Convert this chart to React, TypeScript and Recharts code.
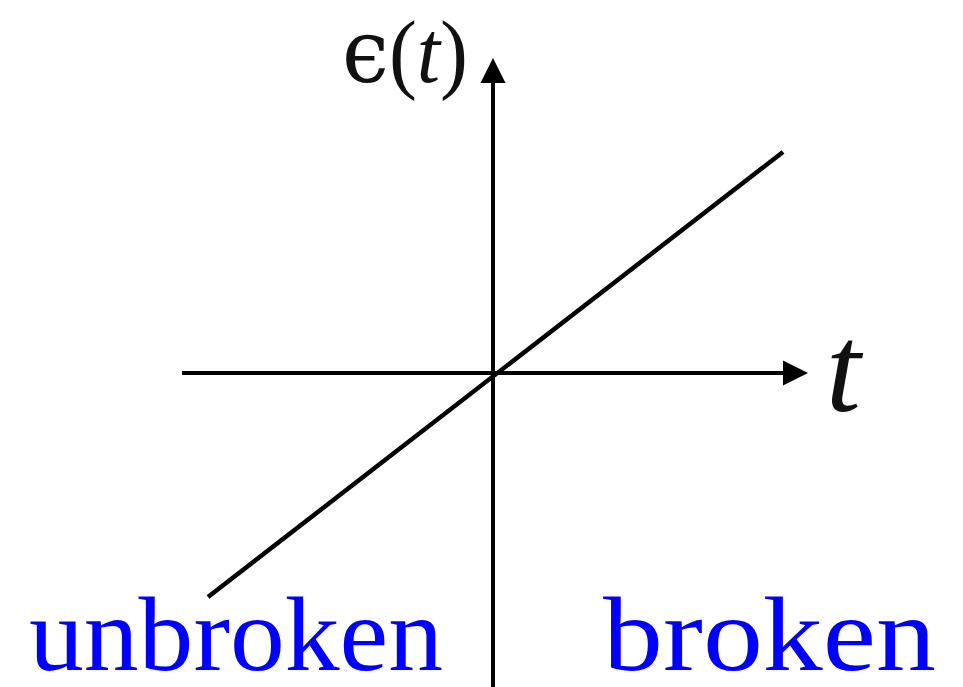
import { LineChart, Line, XAxis, YAxis, ReferenceLine } from "recharts";

// strain ε grows linearly with time t, through the origin
const timePoints = [-2.85, 2.9];
const strainPoints = [-2.24, 2.21];

// axis extents in data units (t axis, ε axis)
const tAxisRange = [-3.11, 3.15];
const epsAxisRange = [-3.14, 3.15];

const data = timePoints.map((t, i) => ({ t, eps: strainPoints[i] }));

const INK = "#000";
const BLUE = "#0000ff";

// line with a filled triangular head at (x2, y2)
const arrowShape = (props: any) => {
  const { x1, y1, x2, y2 } = props;
  const dx = x2 - x1;
  const dy = y2 - y1;
  const len = Math.sqrt(dx * dx + dy * dy) || 1;
  const ux = dx / len;
  const uy = dy / len;
  const head = 25;
  const half = 12.5;
  const bx = x2 - ux * head;
  const by = y2 - uy * head;
  const pts = [
    `${x2},${y2}`,
    `${bx - uy * half},${by + ux * half}`,
    `${bx + uy * half},${by - ux * half}`,
  ].join(" ");
  return (
    <g>
      <line x1={x1} y1={y1} x2={bx + ux * 2} y2={by + uy * 2} stroke={INK} strokeWidth={4} />
      <polygon points={pts} fill={INK} />
    </g>
  );
};

export default function App() {
  return (
    <div style={{ position: "absolute", left: 0, top: 0, width: 963, height: 687, background: "#fff" }}>
      <LineChart width={963} height={687} data={data} margin={{ top: 0, right: 0, bottom: 0, left: 0 }}>
        <XAxis type="number" dataKey="t" domain={[-4.93, 4.7]} hide allowDataOverflow />
        <YAxis type="number" dataKey="eps" domain={[-3.14, 3.73]} hide allowDataOverflow />
        <ReferenceLine
          segment={[{ x: tAxisRange[0], y: 0 }, { x: tAxisRange[1], y: 0 }]}
          shape={arrowShape}
          ifOverflow="visible"
        />
        <ReferenceLine
          segment={[{ x: 0, y: epsAxisRange[0] }, { x: 0, y: epsAxisRange[1] }]}
          shape={arrowShape}
          ifOverflow="visible"
        />
        <Line
          dataKey="eps"
          type="linear"
          stroke={INK}
          strokeWidth={4.5}
          dot={false}
          activeDot={false}
          isAnimationActive={false}
        />
        <text x={342} y={82} fill="#111" fontFamily="'Liberation Serif', 'DejaVu Serif', serif" fontSize={88} textLength={126} lengthAdjust="spacingAndGlyphs">
          <tspan fontFamily="'DejaVu Serif', serif">ϵ</tspan>
          <tspan>(</tspan>
          <tspan fontStyle="italic">t</tspan>
          <tspan>)</tspan>
        </text>
        <text x={826} y={411} fill="#111" fontFamily="'Liberation Serif', serif" fontStyle="italic" fontSize={125}>
          t
        </text>
        <text x={29} y={670} fill={BLUE} fontFamily="'Liberation Serif', serif" fontSize={105} textLength={414} lengthAdjust="spacingAndGlyphs">
          unbroken
        </text>
        <text x={603} y={670} fill={BLUE} fontFamily="'Liberation Serif', serif" fontSize={105} textLength={333} lengthAdjust="spacingAndGlyphs">
          broken
        </text>
      </LineChart>
    </div>
  );
}
